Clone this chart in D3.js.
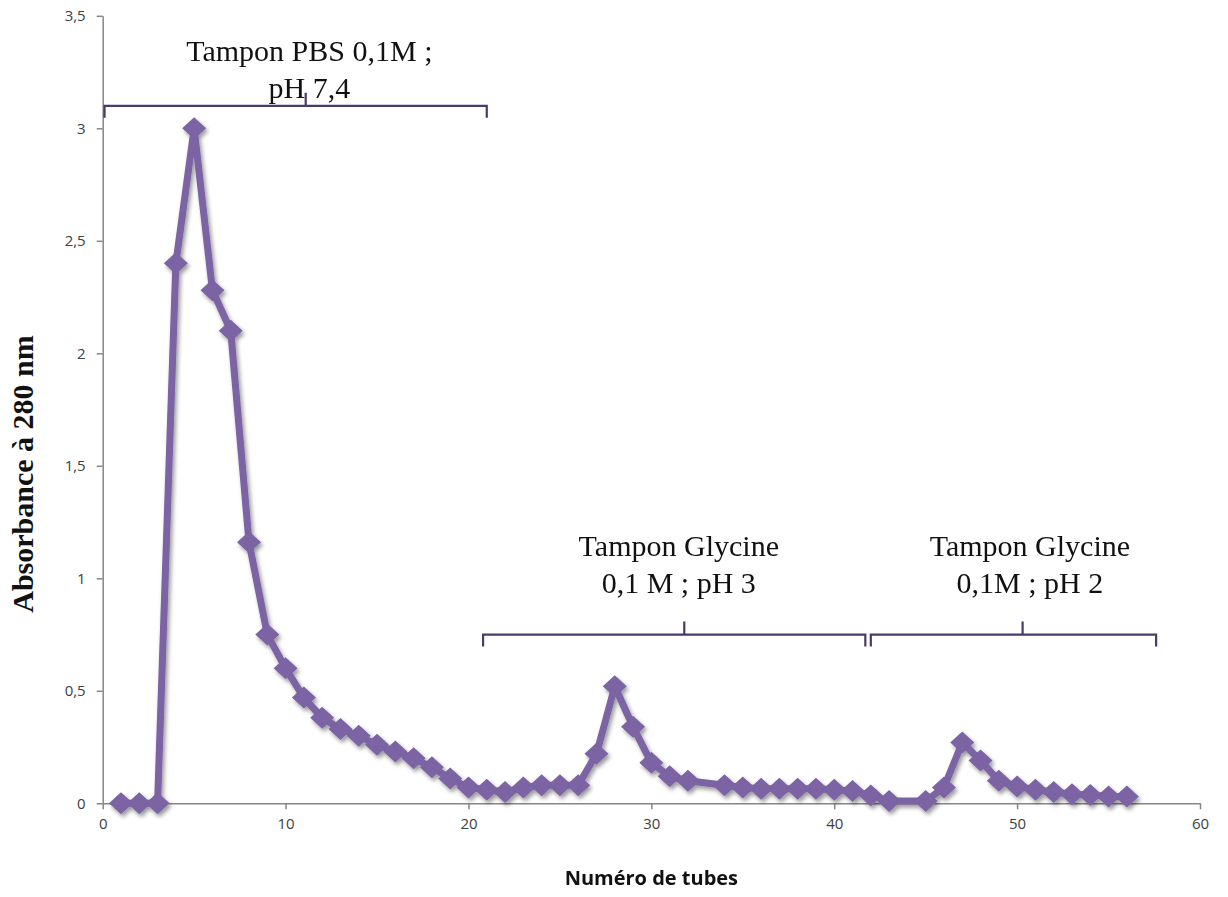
<!DOCTYPE html>
<html>
<head>
<meta charset="utf-8">
<script src="https://cdn.jsdelivr.net/npm/d3@7"></script>
<style>
  body { margin: 0; background: #fff; }
</style>
</head>
<body>
<script>
// tube numbers and absorbance
let tubes = [1,2,3,4,5,6,7,8,9,10,11,12,13,14,15,16,17,18,19,20,
             21,22,23,24,25,26,27,28,29,30,31,32,34,35,36,37,38,39,40,41,42,
             43,45,46,47,48,49,50,51,52,53,54,55,56];
let absorb = [0,0,0,2.4,3.0,2.28,2.1,1.16,0.75,0.6,0.47,0.38,0.33,0.3,0.26,0.23,0.2,0.16,0.11,0.07,
              0.06,0.05,0.07,0.08,0.08,0.08,0.22,0.52,0.34,0.18,0.12,0.1,0.08,0.07,0.065,0.065,0.065,0.065,0.06,0.055,0.035,
              0.01,0.01,0.07,0.27,0.19,0.1,0.075,0.06,0.05,0.04,0.037,0.03,0.03];

let xTicks = [0,10,20,30,40,50,60];
let yTicks = [0,0.5,1,1.5,2,2.5,3,3.5];

// buffer brackets: start tube, end tube, middle tube, level
let bracketStart = [0.1, 20.8, 42.0];
let bracketEnd = [21.0, 41.7, 57.6];
let bracketMid = [11.1, 31.8, 50.3];
let bracketLevel = [3.1, 0.75, 0.75];
// labels: lines, centre tube, baseline of last line (absorbance units)
let bracketLabels = [["Tampon PBS 0,1M ;", "pH 7,4"],
                     ["Tampon Glycine", "0,1 M ; pH 3"],
                     ["Tampon Glycine", "0,1M ; pH 2"]];
let labelCenter = [11.3, 31.5, 50.7];
let labelBase = [3.135, 0.935, 0.935];

let width = 1228, height = 897;
let svg = d3.select("body").append("svg").attr("width",width).attr("height",height);

let x = d3.scaleLinear().domain([0,60]).range([102.7,1200]);
let y = d3.scaleLinear().domain([0,3.5]).range([803.3,15.8]);

let fmt = d => String(d).replace(".", ",");

// shadow like the spreadsheet style
let defs = svg.append("defs");
defs.append("filter").attr("id","shadow")
    .attr("x","-20%").attr("y","-20%").attr("width","140%").attr("height","140%")
  .append("feDropShadow")
    .attr("dx",2).attr("dy",3).attr("stdDeviation",2)
    .attr("flood-color","#000").attr("flood-opacity",0.4);

// axes
let axisColor = "#868686";
let xAxis = svg.append("g").attr("transform","translate(0,"+y(0)+")")
    .call(d3.axisBottom(x).tickValues(xTicks).tickSize(6).tickSizeOuter(0).tickFormat(fmt));
let yAxis = svg.append("g").attr("transform","translate("+x(0)+",0)")
    .call(d3.axisLeft(y).tickValues(yTicks).tickSize(6).tickSizeOuter(0).tickFormat(fmt));

[xAxis, yAxis].forEach(g => {
  g.select(".domain").attr("stroke",axisColor).attr("stroke-width",1.5);
  g.selectAll(".tick line").attr("stroke",axisColor).attr("stroke-width",1.5);
  g.selectAll(".tick text")
    .attr("fill","#404040")
    .attr("font-family","'Open Sans', 'DejaVu Sans', sans-serif")
    .attr("font-size","15px");
});
xAxis.selectAll(".tick text").attr("dy","1.1em");
yAxis.selectAll(".tick text").attr("dx","-8");

// series
let pts = tubes.map((t,i) => [t, absorb[i]]);
let color = "#7b63a3";

// wide diamond marker
let diamond = {
  draw(ctx, size) {
    let w = 12, h = 11;
    ctx.moveTo(0,-h); ctx.lineTo(w,0); ctx.lineTo(0,h); ctx.lineTo(-w,0); ctx.closePath();
  }
};

let series = svg.append("g").attr("filter","url(#shadow)");
series.append("path")
    .datum(pts)
    .attr("fill","none")
    .attr("stroke",color)
    .attr("stroke-width",7)
    .attr("stroke-linejoin","round")
    .attr("d", d3.line().x(d => x(d[0])).y(d => y(d[1])));

series.selectAll("path.mark")
    .data(pts)
    .enter().append("path")
      .attr("class","mark")
      .attr("fill",color)
      .attr("d", d3.symbol(diamond))
      .attr("transform", d => "translate("+x(d[0])+","+y(d[1])+")");

// brackets
let bracketColor = "#4a3a6a";
bracketStart.forEach((s,i) => {
  let yl = y(bracketLevel[i]);
  let x0 = x(s), x1 = x(bracketEnd[i]), xm = x(bracketMid[i]);
  svg.append("path")
    .attr("fill","none")
    .attr("stroke",bracketColor)
    .attr("stroke-width",2.2)
    .attr("d","M"+x0+","+(yl+12)+"V"+yl+"H"+x1+"V"+(yl+12)+"M"+xm+","+yl+"V"+(yl-13));

  let n = bracketLabels[i].length;
  let t = svg.append("text")
    .attr("text-anchor","middle")
    .attr("font-family","'Liberation Serif', 'Times New Roman', serif")
    .attr("font-size","30px")
    .attr("fill","#111");
  t.selectAll("tspan")
    .data(bracketLabels[i])
    .enter().append("tspan")
      .attr("x", x(labelCenter[i]))
      .attr("y", (d,j) => y(labelBase[i]) - (n-1-j)*37)
      .text(d => d);
});

// axis titles
svg.append("text")
    .attr("x", (x(0)+x(60))/2)
    .attr("y", 885)
    .attr("text-anchor","middle")
    .attr("font-family","'Open Sans', 'DejaVu Sans', sans-serif")
    .attr("font-weight","bold")
    .attr("font-size","20px")
    .attr("fill","#111")
    .text("Numéro de tubes");

svg.append("text")
    .attr("transform","translate(33,474) rotate(-90)")
    .attr("text-anchor","middle")
    .attr("font-family","'Liberation Serif', 'Times New Roman', serif")
    .attr("font-weight","bold")
    .attr("font-size","30px")
    .attr("fill","#111")
    .text("Absorbance à 280 nm");
</script>
</body>
</html>
